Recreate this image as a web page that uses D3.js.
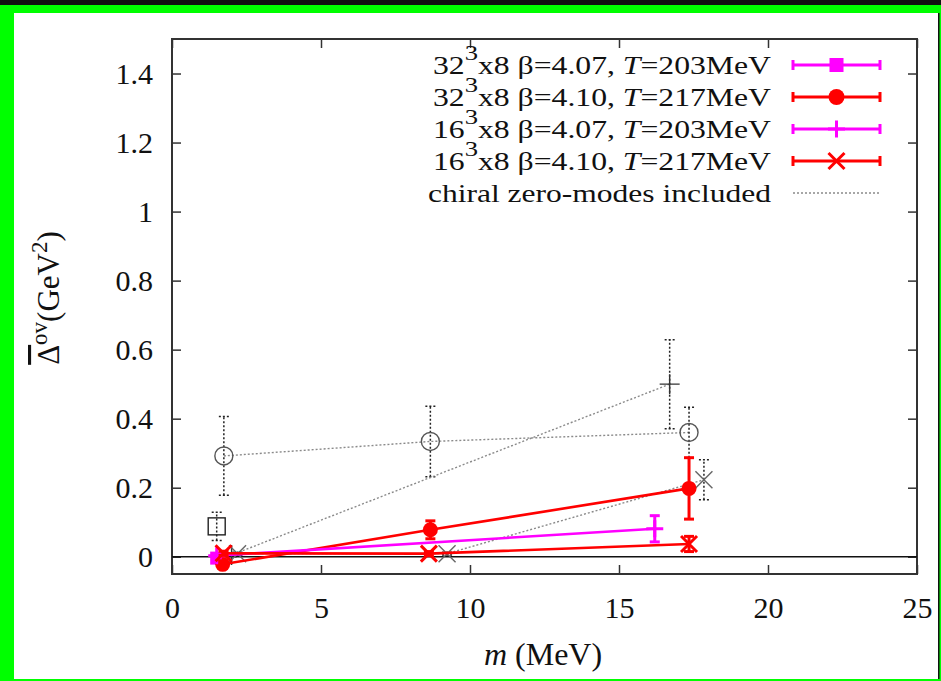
<!DOCTYPE html>
<html>
<head>
<meta charset="utf-8">
<script src="https://cdn.jsdelivr.net/npm/d3@7"></script>
<style>
body { margin: 0; background: #fff; }
svg text { font-family: "Liberation Serif", "Times New Roman", serif; fill: #111; }
</style>
</head>
<body>
<svg id="chart" width="941" height="681"></svg>
<script>
// values: m in MeV, delta in GeV^2, e = half error bar
const xTicks = [0, 5, 10, 15, 20, 25];
const yTicks = [0, 0.2, 0.4, 0.6, 0.8, 1, 1.2, 1.4];

// 32^3x8 beta=4.07
const sq32M = [1.5];
const sq32V = [-0.004];
const sq32E = [0.01];
// 32^3x8 beta=4.10
const ci32M = [1.7, 8.67, 17.35];
const ci32V = [-0.022, 0.078, 0.198];
const ci32E = [0.01, 0.026, 0.089];
// 16^3x8 beta=4.07
const pl16M = [1.5, 16.2];
const pl16V = [0.003, 0.081];
const pl16E = [0.006, 0.038];
// 16^3x8 beta=4.10
const cr16M = [1.73, 8.62, 17.35];
const cr16V = [0.01, 0.009, 0.037];
const cr16E = [0.006, 0.006, 0.022];

// chiral zero-modes included
const zmSqM = [1.5];
const zmSqV = [0.088];
const zmSqE = [0.041];
const zmCiM = [1.74, 8.67, 17.35];
const zmCiV = [0.292, 0.334, 0.36];
const zmCiE = [0.114, 0.102, 0.073];
const zmPlM = [2.0, 16.7];
const zmPlV = [0.005, 0.5];
const zmPlE = [0.005, 0.129];
const zmCrM = [2.2, 9.23, 17.85];
const zmCrV = [0.009, 0.009, 0.223];
const zmCrE = [0.004, 0.004, 0.058];

const legendSizes = ['32', '32', '16', '16'];
const legendBetas = ['4.07', '4.10', '4.07', '4.10'];
const legendTemps = ['203', '217', '203', '217'];
const zeroModeLabel = 'chiral zero-modes included';

const W = 941, H = 681;
const pLeft = 172, pRight = 917, pTop = 39, pBottom = 574;

const svg = d3.select('#chart');

// green frame like the screenshot
svg.append('rect').attr('width', W).attr('height', H).attr('fill', '#00ff00');
svg.append('rect').attr('width', W).attr('height', 5).attr('fill', '#111');
svg.append('rect').attr('x', 14).attr('y', 13).attr('width', 924).attr('height', 666).attr('fill', '#fff');
svg.append('rect').attr('x', 938).attr('y', 13).attr('width', 1.5).attr('height', 666).attr('fill', '#111');

const x = d3.scaleLinear().domain([0, 25]).range([pLeft, pRight]);
const y = d3.scaleLinear().domain([-0.05, 1.5]).range([pBottom, pTop]);

const fmt = (d) => String(+d.toFixed(1));

// axes with inward ticks on all four sides
const axisStyle = (g) => {
	g.select('.domain').remove();
	g.selectAll('.tick line').attr('stroke', '#333').attr('stroke-width', 1.5);
	g.selectAll('.tick text').attr('font-size', '30px').attr('fill', '#111')
		.attr('font-family', '"Liberation Serif", serif');
}
svg.append('g').attr('transform', `translate(0,${pBottom})`)
	.call(d3.axisBottom(x).tickValues(xTicks).tickSizeInner(-9).tickSizeOuter(0).tickPadding(23).tickFormat(fmt))
	.call(axisStyle);
svg.append('g').attr('transform', `translate(0,${pTop})`)
	.call(d3.axisTop(x).tickValues(xTicks).tickSizeInner(-9).tickSizeOuter(0).tickFormat(''))
	.call(axisStyle);
svg.append('g').attr('transform', `translate(${pLeft},0)`)
	.call(d3.axisLeft(y).tickValues(yTicks).tickSizeInner(-9).tickSizeOuter(0).tickPadding(19).tickFormat(fmt))
	.call(axisStyle);
svg.append('g').attr('transform', `translate(${pRight},0)`)
	.call(d3.axisRight(y).tickValues(yTicks).tickSizeInner(-9).tickSizeOuter(0).tickFormat(''))
	.call(axisStyle);

svg.append('rect').attr('x', pLeft).attr('y', pTop).attr('width', pRight - pLeft).attr('height', pBottom - pTop)
	.attr('fill', 'none').attr('stroke', '#333').attr('stroke-width', 2);

// zero line
svg.append('line').attr('x1', pLeft).attr('x2', pRight).attr('y1', y(0)).attr('y2', y(0))
	.attr('stroke', '#111').attr('stroke-width', 1.5);

const zip = (ms, vs, es) => ms.map((m, i) => ({m: m, v: vs[i], e: es[i]}));

const markerPath = (type, s) => {
	if(type == 'plus') { return `M${-s},0H${s}M0,${-s}V${s}`; }
	if(type == 'cross') { return `M${-s},${-s}L${s},${s}M${-s},${s}L${s},${-s}`; }
	return '';
}

const drawMarker = (g, type, cx, cy, st) => {
	if(type == 'square') {
		g.append('rect').attr('x', cx - st.size / 2).attr('y', cy - st.size / 2)
			.attr('width', st.size).attr('height', st.size)
			.attr('fill', st.fill).attr('stroke', st.stroke).attr('stroke-width', st.mw);
	} else if(type == 'circle') {
		g.append('circle').attr('cx', cx).attr('cy', cy).attr('r', st.size / 2)
			.attr('fill', st.fill).attr('stroke', st.stroke).attr('stroke-width', st.mw);
	} else {
		g.append('path').attr('d', markerPath(type, st.size / 2)).attr('transform', `translate(${cx},${cy})`)
			.attr('fill', 'none').attr('stroke', st.stroke).attr('stroke-width', st.mw);
	}
}

const drawSeries = (pts, type, st) => {
	let g = svg.append('g');
	// connecting line
	if(pts.length > 1) {
		g.append('path').datum(pts)
			.attr('d', d3.line().x(d => x(d.m)).y(d => y(d.v)))
			.attr('fill', 'none').attr('stroke', st.line).attr('stroke-width', st.lw)
			.attr('stroke-dasharray', st.dash);
	}
	// error bars
	for(let p of pts) {
		let px = x(p.m), y1 = y(p.v - p.e), y2 = y(p.v + p.e);
		let eb = g.append('g').attr('stroke', st.err).attr('stroke-width', st.ew)
			.attr('stroke-dasharray', st.edash);
		eb.append('line').attr('x1', px).attr('x2', px).attr('y1', y1).attr('y2', y2);
		eb.append('line').attr('x1', px - st.cap).attr('x2', px + st.cap).attr('y1', y1).attr('y2', y1);
		eb.append('line').attr('x1', px - st.cap).attr('x2', px + st.cap).attr('y1', y2).attr('y2', y2);
	}
	for(let p of pts) {
		drawMarker(g, type, x(p.m), y(p.v), st);
	}
}

const grayStyle = (size, stroke) => ({
	line: '#8a8a8a', lw: 1.4, dash: '2,2', err: '#222', ew: 1.5, edash: '2,2', cap: 5,
	size: size, fill: 'none', stroke: stroke, mw: 1.4
});
const colorStyle = (c, size, fill, mw) => ({
	line: c, lw: 2.6, dash: null, err: c, ew: 3, edash: null, cap: 5,
	size: size, fill: fill, stroke: c, mw: mw
});

// zero-mode data first, coloured data on top
drawSeries(zip(zmSqM, zmSqV, zmSqE), 'square', grayStyle(17, '#222'));
drawSeries(zip(zmCiM, zmCiV, zmCiE), 'circle', grayStyle(18, '#555'));
drawSeries(zip(zmPlM, zmPlV, zmPlE), 'plus', grayStyle(20, '#333'));
drawSeries(zip(zmCrM, zmCrV, zmCrE), 'cross', grayStyle(17, '#666'));

drawSeries(zip(sq32M, sq32V, sq32E), 'square', colorStyle('#ff00ff', 13, '#ff00ff', 0));
drawSeries(zip(ci32M, ci32V, ci32E), 'circle', colorStyle('#ff0000', 15, '#ff0000', 0));
drawSeries(zip(pl16M, pl16V, pl16E), 'plus', colorStyle('#ff00ff', 17, 'none', 3));
drawSeries(zip(cr16M, cr16V, cr16E), 'cross', colorStyle('#ff0000', 16, 'none', 3));

// legend
const legendTypes = ['square', 'circle', 'plus', 'cross'];
const legendColors = ['#ff00ff', '#ff0000', '#ff00ff', '#ff0000'];
const legendMarkerSize = [14, 16, 17, 16];
const rowY = (i) => 65 + i * 32;
const textRight = 771, sx1 = 793, sx2 = 880;

legendSizes.forEach((n, i) => {
	let t = svg.append('text').attr('x', textRight).attr('y', rowY(i) + 9)
		.attr('text-anchor', 'end').attr('font-size', '25px')
		.attr('textLength', 338).attr('lengthAdjust', 'spacingAndGlyphs');
	t.append('tspan').text(n);
	t.append('tspan').attr('dy', -14).attr('font-size', '21px').text('3');
	t.append('tspan').attr('dy', 14).text(`x8 \u03b2=${legendBetas[i]}, `);
	t.append('tspan').attr('font-style', 'italic').text('T');
	t.append('tspan').text(`=${legendTemps[i]}MeV`);

	let c = legendColors[i];
	let g = svg.append('g');
	let ly = rowY(i);
	g.append('line').attr('x1', sx1).attr('x2', sx2).attr('y1', ly).attr('y2', ly)
		.attr('stroke', c).attr('stroke-width', 3);
	g.append('line').attr('x1', sx1).attr('x2', sx1).attr('y1', ly - 5).attr('y2', ly + 5)
		.attr('stroke', c).attr('stroke-width', 3);
	g.append('line').attr('x1', sx2).attr('x2', sx2).attr('y1', ly - 5).attr('y2', ly + 5)
		.attr('stroke', c).attr('stroke-width', 3);
	let mw = (legendTypes[i] == 'plus' || legendTypes[i] == 'cross') ? 3 : 0;
	drawMarker(g, legendTypes[i], (sx1 + sx2) / 2, ly, {size: legendMarkerSize[i], fill: c, stroke: c, mw: mw});
});

svg.append('text').attr('x', textRight).attr('y', rowY(4) + 9)
	.attr('text-anchor', 'end').attr('font-size', '25px')
	.attr('textLength', 343).attr('lengthAdjust', 'spacingAndGlyphs')
	.text(zeroModeLabel);
svg.append('line').attr('x1', sx1).attr('x2', sx2).attr('y1', rowY(4)).attr('y2', rowY(4))
	.attr('stroke', '#8a8a8a').attr('stroke-width', 1.4).attr('stroke-dasharray', '2,2');

// axis titles
let xl = svg.append('text').attr('x', 543).attr('y', 665).attr('text-anchor', 'middle').attr('font-size', '32px');
xl.append('tspan').attr('font-style', 'italic').text('m');
xl.append('tspan').text(' (MeV)');

let yl = svg.append('text').attr('transform', 'translate(59,298) rotate(-90)')
	.attr('text-anchor', 'middle').attr('font-size', '31px');
yl.append('tspan').style('text-decoration', 'overline').text('\u0394');
yl.append('tspan').attr('dy', -12).attr('font-size', '23px').text('ov');
yl.append('tspan').attr('dy', 12).text('(GeV');
yl.append('tspan').attr('dy', -12).attr('font-size', '23px').text('2');
yl.append('tspan').attr('dy', 12).text(')');
</script>
</body>
</html>
